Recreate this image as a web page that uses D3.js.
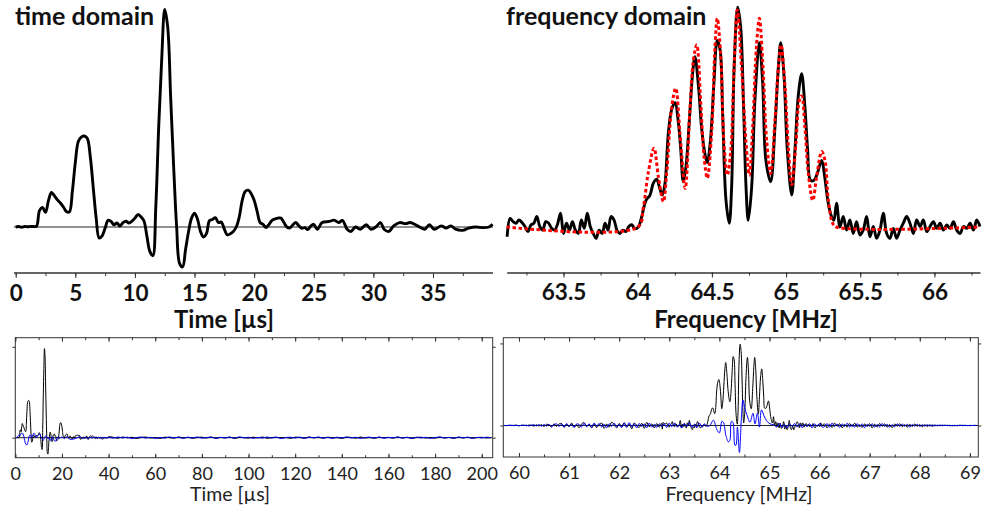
<!DOCTYPE html>
<html><head><meta charset="utf-8">
<script src="https://cdn.jsdelivr.net/npm/d3@7"></script>
<style>body{margin:0;background:#fff}svg{display:block;font-family:Lato,"Noto Sans",sans-serif}</style>
</head><body><svg id="chart" width="982" height="510"></svg>
<script>
// ---------- time domain (µs, normalised signal) ----------
const timeUs = [0,0.25,0.5,0.75,1,1.25,1.5,1.75,2,2.25,2.5,2.75,3,3.25,3.5,3.75,4,4.25,4.5,4.75,5,5.25,5.5,5.75,6,6.25,6.5,6.75,7,7.25,7.5,7.75,8,8.25,8.5,8.75,9,9.25,9.5,9.75,10,10.25,10.5,10.75,11,11.25,11.5,11.75,12,12.25,12.5,12.75,13,13.25,13.5,13.75,14,14.25,14.5,14.75,15,15.25,15.5,15.75,16,16.25,16.5,16.75,17,17.25,17.5,17.75,18,18.25,18.5,18.75,19,19.25,19.5,19.75,20,20.25,20.5,20.75,21,21.25,21.5,21.75,22,22.25,22.5,22.75,23,23.25,23.5,23.75,24,24.25,24.5,24.75,25,
25.3,25.7,26.3,26.7,27.1,27.4,27.8,28.1,28.5,28.9,29.4,29.8,30.2,30.6,30.9,31.3,31.7,32.2,32.7,33.1,33.7,34.3,34.7,35.1,35.7,36.1,36.5,36.9,37.5,38.0,38.6,39.2,39.7,40];
const timeRe = [0,.002,-.001,.002,.001,.003,.002,.004,
.075,.088,.066,.12,.156,.14,.122,.108,
.09,.07,.068,.16,.29,.385,.405,.41,
.4,.32,.18,.04,-.05,-.04,-.005,.03,
.025,.01,.018,.004,.02,.026,.018,.026,
.04,.056,.046,.028,-.04,-.11,-.13,.09,
.46,.76,.98,.9,.58,.27,0,-.165,
-.18,-.1,-.02,.04,.062,.035,-.02,-.045,
-.03,.028,.034,.042,.02,.022,-.01,-.036,
-.03,-.02,0,.045,.12,.16,.166,.15,
.12,.07,.02,.012,-.002,.012,.03,.036,
.04,.04,.02,0,-.004,.01,.02,.005,
-.006,-.003,-.012,.004,.012,
-.01,.02,.025,.031,.02,.03,-.01,-.02,0,-.01,
.01,-.01,0,.02,-.01,-.02,.005,.02,.015,.02,
.005,-.01,.01,-.01,.005,-.005,.005,-.01,-.015,-.005,
0,-.003,0,.012];
const timeTailUs = [42,44,46,48,50,52,54,56,58,60,62,64,66,68,70,72,74,76,78,80,82,84,86,88,90,92,94,96,98,100,102,104,106,108,110,112,114,116,118,120,122,124,126,128,130,132,134,136,138,140,142,144,146,148,150,152,154,156,158,160,162,164,166,168,170,172,174,176,178,180,182,184,186,188,190,192,194,196,198,200,202,204];
const timeTailRe = [.004,-.006,.008,-.002,.005,-.009,.003,.007,-.004,.002,
-.008,.006,.001,-.005,.009,-.003,.004,-.007,.002,.006,
-.004,.008,-.006,.003,-.002,.007,-.009,.004,.001,-.005,
.006,-.003,.008,-.007,.002,.005,-.004,.003,-.008,.006,
.002,-.006,.009,-.002,.004,-.005,.007,-.003,.001,-.008,
.005,.003,-.006,.008,-.004,.002,-.007,.006,-.002,.004,
-.005,.007,-.003,.005,-.008,.002,.006,-.004,.003,-.006,
.008,-.002,.004,-.007,.005,-.003,.006,-.005,.002,.004,
-.003,.002];
const timeImUs = [0,0.5,1,1.5,2,2.5,3,3.5,4,4.5,5,5.5,6,6.5,7,7.5,8,8.5,9,9.5,10,10.5,11,11.5,12,12.5,13,13.5,14,14.5,15,15.5,16,16.5,17,17.5,18,18.5,19,19.5,20,
21,22,23,24,25,26,27,28,29,30,31,32,33,34,35,36,37,38,39,40];
const timeIm = [0,.002,.01,.03,.02,.045,.05,.03,-.03,-.07,
-.08,-.04,.02,.03,0,.03,.05,.03,0,.02,
.03,.04,.01,-.01,-.03,0,.02,.01,-.01,0,
-.03,-.01,.01,-.02,-.04,-.03,0,.01,-.01,0,
.01,
-.01,.01,-.01,-.02,-.015,-.005,.005,.01,-.008,.006,
-.01,.004,-.006,.008,-.004,.002,-.007,.005,-.003,.004];
const timeTailIm = [-.005,.008,-.003,.006,-.009,.002,.007,-.004,.005,-.008,
.003,-.006,.009,-.002,.004,-.007,.006,-.003,.008,-.005,
.002,.006,-.008,.004,-.003,.007,-.006,.009,-.002,.005,
-.007,.003,-.005,.008,-.004,.006,-.009,.002,.005,-.003,
.007,-.006,.004,-.002,.008,-.005,.003,-.007,.006,-.004,
.009,-.003,.005,-.008,.002,.006,-.004,.007,-.006,.003,
-.002,.008,-.005,.004,-.007,.006,-.003,.005,-.008,.002,
.007,-.004,.003,-.006,.008,-.002,.005,-.007,.004,-.003,
.006,-.002];

// ---------- frequency domain (MHz, normalised spectrum) ----------
const freqMHz = [63.12,63.14,63.16,63.18,63.2,63.22,63.24,63.26,63.28,63.3,63.32,63.34,63.36,63.38,63.4,63.42,63.44,63.46,63.48,63.5,63.52,63.54,63.56,63.58,63.6,63.62,63.64,63.66,63.68,63.7,63.72,63.74,63.76,63.78,63.8,63.82,63.84,63.86,63.88,63.9,63.92,63.94,63.96,63.98,
64.004,64.027,64.056,64.083,64.105,64.128,64.146,64.166,64.184,64.206,64.229,64.251,64.274,64.29,64.307,64.325,64.348,64.37,64.386,64.41,64.43,64.453,64.469,64.49,64.514,64.536,64.555,64.573,64.595,64.617,64.633,64.65,64.674,64.694,64.714,64.73,64.745,64.768,64.79,64.82,64.842,64.864,64.896,64.925,64.948,64.964,64.986,65.008,65.038,65.06,65.082,65.105,65.127,65.145,65.165,65.188,65.21,65.24,65.26,65.284,65.307,65.322,65.34,65.363,
65.385,65.408,65.43,65.453,65.475,65.498,65.52,65.543,65.565,65.588,65.61,65.633,65.655,65.678,65.7,65.723,65.745,65.768,65.79,65.813,65.835,65.858,65.88,65.903,65.925,65.948,65.97,65.993,66.015,66.038,66.06,66.083,66.105,66.128,66.15,66.173,66.195,66.218,66.24,66.263,66.285,66.307];
const specRe = [-.044,.039,.024,.017,.032,.02,.002,-.021,.009,.017,
.047,.002,-.014,.024,.017,-.006,-.014,.014,.062,-.029,
.017,-.014,.024,-.014,-.029,.032,-.006,.062,.002,-.029,
-.051,-.014,-.029,.017,-.014,.047,.032,-.014,-.029,-.014,
-.021,.002,.01,-.008,
0,.047,.12,.144,.197,.215,.18,.144,.197,.42,.53,.56,.47,.35,.204,.27,.48,.69,.767,.63,.45,.33,.29,.39,.65,.84,.8,.5,.12,.017,.18,.72,.99,.9,.53,.18,.03,.18,.57,.83,.65,.3,.204,.45,.72,.83,.68,.35,.144,.35,.59,.69,.54,.35,.21,.21,.24,.3,.227,.107,.046,.03,.107,0,
.047,-.014,.032,-.029,.024,-.036,-.014,.047,-.044,.002,
-.051,-.014,.062,-.029,-.051,-.006,-.051,-.014,.017,.047,
.017,-.029,.032,.002,.032,-.021,.002,.024,-.006,.017,
-.014,.009,-.006,.024,-.014,-.029,.002,-.006,.017,-.014,
.032,.002];
const modelMHz = [63.117,64.0,64.038,64.07,64.11,64.139,64.173,64.195,64.229,64.256,64.285,64.32,64.352,64.375,64.398,64.424,64.447,64.469,64.498,64.52,64.536,64.559,64.58,64.604,64.627,64.65,64.671,64.7,64.73,64.752,64.775,64.8,64.82,64.842,64.869,64.896,64.925,64.948,64.966,64.993,65.015,65.038,65.067,65.089,65.105,65.127,65.15,65.18,65.206,65.24,65.262,65.285,65.314,65.34,66.307];
const specModel = [0,0,.09,.24,.355,.227,.114,.24,.54,.625,.42,.174,.53,.75,.82,.57,.317,.22,.42,.8,.94,.78,.39,.234,.34,.73,.977,.72,.38,.234,.45,.81,.94,.75,.39,.24,.48,.72,.82,.63,.36,.19,.38,.57,.59,.45,.24,.12,.227,.34,.3,.12,.017,0,0];

// ---------- wide spectrum (bottom right) ----------
const wideFreqShift = -0.26; // frequency offset of the zoomed spectrum relative to the wide axis
const wideLeftMHz = [59.7,59.75,59.8,59.85,59.9,59.95,60,60.05,60.1,60.15,60.2,60.25,60.3,60.35,60.4,60.45,60.5,60.55,60.6,60.65,60.7,60.75,60.8,60.85,60.9,60.95,61,61.05,61.1,61.15,61.2,61.25,61.3,61.35,61.4,61.45,61.5,61.55,61.6,61.65,61.7,61.75,61.8,61.85,61.9,61.95,62,62.05,62.1,62.15,62.2,62.25,62.3,62.35,62.4,62.45,62.5,62.55,62.6,62.65,62.7,62.75,62.8,62.85];
const wideLeftRe = [.001,-.002,.003,-.001,.002,.004,-.003,.002,.005,-.004,
.006,.002,-.007,.008,-.005,.01,-.012,.015,.004,-.018,
.02,-.01,.018,.025,-.022,.012,-.015,.03,-.02,.008,
-.028,.02,.035,-.012,.015,-.03,.022,-.025,.01,.03,
-.035,.018,-.02,.04,.012,-.03,.025,-.018,.035,-.022,
.02,-.04,.03,.005,-.025,.028,-.035,.038,-.015,.02,
-.03,.025,-.02,.03];
const wideLeftIm = [.002,-.001,.001,.003,-.002,.002,-.004,.003,-.002,.005,
-.006,.004,.008,-.005,.01,-.008,.012,-.006,.015,-.014,
.01,.02,-.012,.018,-.02,.025,-.01,.015,-.025,.02,
.012,-.018,.028,-.015,.02,-.022,.03,-.01,.025,-.02,
.015,-.028,.022,-.012,.03,-.018,.01,-.025,.028,-.02,
.035,-.015,.02,-.03,.025,-.01,.018,-.028,.03,-.02,
.015,-.025,.02,-.01];
const imSigMHz = [62.9,62.95,63,63.05,63.1,63.15,63.2,63.25,63.3,63.35,63.4,63.45,63.5,63.55,63.6,63.65,63.7,63.75,
63.81,63.88,63.95,64.0,64.05,64.08,64.13,64.18,64.21,64.24,64.27,64.31,64.33,64.36,64.4,64.44,64.47,64.51,64.55,64.61,64.67,64.71,64.76,64.8,64.84,64.89,64.94,65.01,65.08,
65.15,65.2,65.25,65.3,65.35,65.4,65.45,65.5,65.55,65.6,65.65,65.7,65.75,65.8,65.85,65.9,65.95,66,66.05];
const imSig = [.02,-.025,.03,-.015,.028,-.02,.01,-.03,.025,-.012,.035,-.02,.015,-.028,.03,-.018,.02,-.01,
0,.065,-.05,-.09,.05,.04,-.12,-.2,-.18,.05,.04,-.24,-.24,-.02,-.33,.1,.31,.2,.13,.04,.15,.02,.15,-.02,.19,.12,.06,.02,.01,
-.02,.03,-.025,.015,-.03,.02,-.01,.025,-.02,.018,-.028,.012,-.015,.022,-.03,.02,-.012,.025,-.018];
const wideRightMHz = [66.1,66.15,66.2,66.25,66.3,66.35,66.4,66.45,66.5,66.55,66.6,66.65,66.7,66.75,66.8,66.85,66.9,66.95,67,67.05,67.1,67.15,67.2,67.25,67.3,67.35,67.4,67.45,67.5,67.55,67.6,67.65,67.7,67.75,67.8,67.85,67.9,67.95,68,68.05,68.1,68.15,68.2,68.25,68.3,68.35,68.4,68.45,68.5,68.55,68.6,68.65,68.7,68.75,68.8,68.85,68.9,68.95,69,69.05,69.1,69.15];
const wideRightRe = [.02,-.03,.015,-.025,.03,-.01,.022,-.028,.012,-.02,
.025,-.015,.03,-.02,.008,-.025,.018,-.012,.022,-.03,
.015,-.018,.025,-.01,.02,-.022,.012,-.028,.018,-.008,
.022,-.015,.01,-.02,.015,-.012,.018,-.01,.012,-.016,
.01,-.012,.008,-.01,.006,
-.004,.005,-.003,.004,-.002,.003,-.004,.002,-.003,.004,
-.002,.003,-.002,.002,-.001,.002,-.001];
const wideRightIm = [-.015,.025,-.02,.03,-.012,.018,-.025,.02,-.01,.028,
-.018,.012,-.022,.025,-.015,.02,-.028,.015,-.01,.022,
-.02,.012,-.018,.025,-.012,.015,-.02,.01,-.015,.02,
-.012,.018,-.01,.015,-.02,.012,-.008,.015,-.012,.01,
-.008,.01,-.006,.008,-.005,
.004,-.003,.005,-.002,.003,-.004,.002,-.003,.002,-.001,
.003,-.002,.001,-.002,.001,-.001,.001];

// ---------- tick labels ----------
const timeTicks = [0,5,10,15,20,25,30,35];
const freqTicks = [63.5,64,64.5,65,65.5,66];
const wideTimeTicks = [0,20,40,60,80,100,120,140,160,180,200];
const wideFreqTicks = [60,61,62,63,64,65,66,67,68,69];

// ================= drawing =================
const svg = d3.select('#chart');
const pts = (xs, ys) => ys.map((v, i) => [xs[i], v]);
function path(g, data, x, y, stroke, width, dash) {
  const p = g.append('path')
    .attr('d', d3.line().x(d => x(d[0])).y(d => y(d[1])).curve(d3.curveCatmullRom.alpha(0.5))(data))
    .attr('fill', 'none').attr('stroke', stroke).attr('stroke-width', width)
    .attr('stroke-linejoin', 'round');
  if (dash) p.attr('stroke-dasharray', dash);
  return p;
}
function styleAxis(g, col) {
  g.selectAll('path.domain').attr('stroke', col);
  g.selectAll('.tick line').attr('stroke', col);
}

// ---- top left ----
const xT = d3.scaleLinear([0, 40], [15.7, 492.6]);
const yTop = d3.scaleLinear([-0.2, 1.0], [271.4, 5]);
svg.append('line').attr('x1', 14).attr('x2', 493).attr('y1', yTop(0)).attr('y2', yTop(0))
  .attr('stroke', '#6e6e6e').attr('stroke-width', 1.3);
path(svg, pts(timeUs, timeRe), xT, yTop, '#000', 2.9);
const gTL1 = svg.append('g').attr('transform', 'translate(0,273)')
  .call(d3.axisBottom(xT).tickValues(d3.range(0, 38, 2.5)).tickSize(3).tickSizeOuter(0).tickFormat(''));
const gTL2 = svg.append('g').attr('transform', 'translate(0,273)')
  .call(d3.axisBottom(xT).tickValues(timeTicks).tickSize(5).tickPadding(7).tickSizeOuter(0).tickFormat(d3.format('d')));
gTL2.select('path.domain').attr('d', `M14,0H493`);
[gTL1, gTL2].forEach(g => styleAxis(g, '#333'));
gTL2.selectAll('text').attr('font-size', 22.5).attr('font-weight', 700).attr('fill', '#111').attr('font-family', 'Lato');
gTL1.selectAll('path.domain').remove();
gTL2.selectAll('path.domain').attr('stroke-width', 1.3);

// ---- top right ----
const xF = d3.scaleLinear([63.117, 66.307], [506.7, 980]);
path(svg, pts(freqMHz, specRe), xF, yTop, '#000', 2.9);
path(svg, pts(modelMHz, specModel), xF, yTop, '#ff0000', 3, '3.5,2.5');
const gTR1 = svg.append('g').attr('transform', 'translate(0,272.5)')
  .call(d3.axisBottom(xF).tickValues(d3.range(63.25, 66.3, 0.25)).tickSize(3).tickSizeOuter(0).tickFormat(''));
const gTR2 = svg.append('g').attr('transform', 'translate(0,272.5)')
  .call(d3.axisBottom(xF).tickValues(freqTicks).tickSize(5).tickPadding(7).tickSizeOuter(0).tickFormat(d => String(d)));
[gTR1, gTR2].forEach(g => styleAxis(g, '#333'));
gTR1.selectAll('path.domain').remove();
gTR2.selectAll('path.domain').attr('stroke-width', 1.3);
gTR2.selectAll('text').attr('font-size', 22.5).attr('font-weight', 700).attr('fill', '#111').attr('font-family', 'Lato');

// titles
svg.append('text').attr('x', 15).attr('y', 25).text('time domain')
  .attr('font-size', 25).attr('font-weight', 700).attr('fill', '#111');
svg.append('text').attr('x', 506).attr('y', 25).text('frequency domain')
  .attr('font-size', 25).attr('font-weight', 700).attr('fill', '#111');
svg.append('text').attr('x', 224).attr('y', 328).attr('text-anchor', 'middle').text('Time [µs]')
  .attr('font-size', 24).attr('font-weight', 700).attr('fill', '#111');
svg.append('text').attr('x', 746).attr('y', 328).attr('text-anchor', 'middle').text('Frequency [MHz]')
  .attr('font-size', 24).attr('font-weight', 700).attr('fill', '#111');

// ---- bottom panels ----
function bottomPanel(id, x, y, majors, minorStep, series, title, titleX) {
  const [x0, x1] = x.range(), [yb, yt] = y.range();
  svg.append('clipPath').attr('id', id).append('rect').attr('x', x0).attr('y', yt).attr('width', x1 - x0).attr('height', yb - yt);
  const g = svg.append('g').attr('clip-path', `url(#${id})`);
  g.append('line').attr('x1', x0).attr('x2', x1).attr('y1', y(0)).attr('y2', y(0)).attr('stroke', '#222').attr('stroke-width', 1);
  series.forEach(s => path(g, s.data, x, y, s.color, 1));
  svg.append('rect').attr('x', x0).attr('y', yt).attr('width', x1 - x0).attr('height', yb - yt)
    .attr('fill', 'none').attr('stroke', '#333').attr('stroke-width', 1);
  const dom = x.domain();
  const minors = d3.range(Math.ceil(dom[0] / minorStep) * minorStep, dom[1], minorStep);
  const gb1 = svg.append('g').attr('transform', `translate(0,${yb})`)
    .call(d3.axisBottom(x).tickValues(minors).tickSizeInner(-2.5).tickSizeOuter(0).tickFormat(''));
  const gb2 = svg.append('g').attr('transform', `translate(0,${yb})`)
    .call(d3.axisBottom(x).tickValues(majors).tickSizeInner(-4).tickSizeOuter(0).tickPadding(9.5).tickFormat(d3.format('d')));
  const gt1 = svg.append('g').attr('transform', `translate(0,${yt})`)
    .call(d3.axisTop(x).tickValues(minors).tickSizeInner(-2.5).tickSizeOuter(0).tickFormat(''));
  const gt2 = svg.append('g').attr('transform', `translate(0,${yt})`)
    .call(d3.axisTop(x).tickValues(majors).tickSizeInner(-4).tickSizeOuter(0).tickFormat(''));
  const gl = svg.append('g').attr('transform', `translate(${x0},0)`)
    .call(d3.axisLeft(y).tickValues([0, 1]).tickSize(3).tickSizeOuter(0).tickFormat(''));
  const gr = svg.append('g').attr('transform', `translate(${x1},0)`)
    .call(d3.axisRight(y).tickValues([0, 1]).tickSize(3).tickSizeOuter(0).tickFormat(''));
  [gb1, gb2, gt1, gt2, gl, gr].forEach(a => { a.selectAll('path.domain').remove(); a.selectAll('.tick line').attr('stroke', '#333'); });
  gb2.selectAll('text').attr('font-size', 18).attr('fill', '#222').attr('font-family', 'Lato');
  svg.append('text').attr('x', titleX).attr('y', 501).attr('text-anchor', 'middle').text(title)
    .attr('font-size', 19.5).attr('fill', '#222');
}

const xB = d3.scaleLinear([0, 204.7], [15.3, 492.7]);
const yBL = d3.scaleLinear([-0.22, 1.1], [457.7, 337.7]);
bottomPanel('clipBL', xB, yBL, wideTimeTicks, 10, [
  { data: pts(timeUs, timeRe).concat(pts(timeTailUs, timeTailRe)), color: '#000' },
  { data: pts(timeImUs, timeIm).concat(pts(timeTailUs, timeTailIm)), color: '#0000ff' }
], 'Time [µs]', 230);

const xW = d3.scaleLinear([59.687, 69.168], [503.3, 978.3]);
const yBR = d3.scaleLinear([-0.384, 1.07], [457, 337.7]);
bottomPanel('clipBR', xW, yBR, wideFreqTicks, 0.5, [
  { data: pts(wideLeftMHz, wideLeftRe)
      .concat(pts(freqMHz.map(f => f + wideFreqShift), specRe))
      .concat(pts(wideRightMHz, wideRightRe)), color: '#000' },
  { data: pts(wideLeftMHz, wideLeftIm).concat(pts(imSigMHz, imSig)).concat(pts(wideRightMHz, wideRightIm)), color: '#0000ff' }
], 'Frequency [MHz]', 739);
</script>
</body></html>
